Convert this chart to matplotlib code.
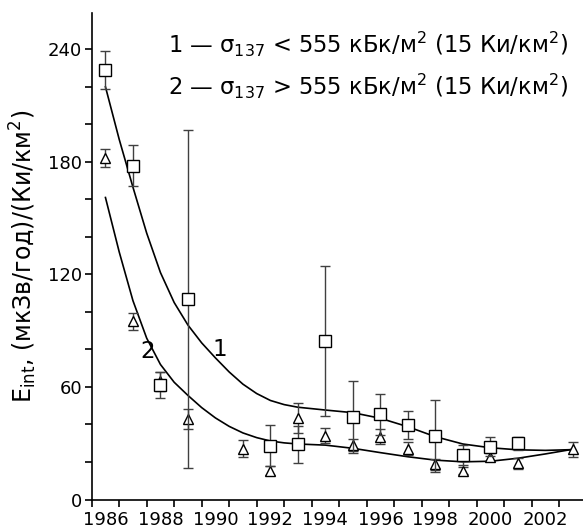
import matplotlib
matplotlib.use('Agg')
import numpy as np
import matplotlib.pyplot as plt

# группа 1 -- квадраты (sigma137 < 555 кБк/м2)
years1 = [1986, 1987, 1988, 1989, 1992, 1993, 1994, 1995, 1996, 1997, 1998, 1999, 2000, 2001]
dose1 = [229, 178, 61, 107, 28.7, 29.4, 84.7, 44, 45.4, 39.7, 33.8, 23.7, 28.2, 30]
err1 = [10, 11, 7, 90, 11, 10, 40, 19, 11, 7.5, 19, 5.5, 5, 3.5]

# группа 2 -- треугольники (sigma137 > 555 кБк/м2)
years2 = [1986, 1987, 1988, 1989, 1991, 1992, 1993, 1994, 1995, 1996, 1997, 1998, 1999, 2000, 2001, 2003]
dose2 = [182, 95, 63, 43, 27, 15.4, 43.3, 34, 29, 33.5, 27, 18.8, 15.4, 22.8, 19.3, 26.8]
err2 = [5, 4.6, 5, 5.5, 4.5, 2.5, 8, 4, 3, 4, 3.5, 3, 2, 2, 3, 4]

# аппроксимирующие кривые
fit1_years = [1986, 1986.5, 1987, 1987.5, 1988, 1988.5, 1989, 1989.5, 1990, 1990.5,
              1991, 1991.5, 1992, 1992.5, 1993, 1994, 1995, 1996, 1997, 1998,
              1999, 2000, 2001, 2002, 2003]
fit1_vals = [220, 192, 166.5, 142, 121, 105, 93, 83.5, 75.5, 68,
             61.5, 56.5, 52.8, 50.6, 49.2, 47.7, 46.3, 43.3, 38.8, 33.5,
             29.6, 27.6, 26.5, 26.2, 26.6]
fit2_years = [1986, 1986.5, 1987, 1987.5, 1988, 1988.5, 1989, 1989.5, 1990, 1990.5,
              1991, 1991.5, 1992, 1992.5, 1993, 1994, 1995, 1996, 1997, 1998,
              1999, 2000, 2001, 2002, 2003]
fit2_vals = [161, 132, 106, 86, 72, 62.5, 55.5, 49, 43.5, 39,
             35.5, 33, 31.2, 30.2, 29.6, 29, 27.3, 25, 22.8, 21,
             20.1, 20.4, 22, 24.3, 26.8]

year_labels = [1986, 1988, 1990, 1992, 1994, 1996, 1998, 2000, 2002]
dose_ticks = [0, 60, 120, 180, 240]

fig = plt.figure(figsize=(5.83, 5.30), dpi=100)
ax = fig.add_axes([0.1573, 0.0575, 0.8427, 0.9185])

ax.errorbar(years2, dose2, yerr=err2, fmt='^', ms=7.5, mfc='white', mec='black', mew=1,
            ecolor='#404040', elinewidth=1, capsize=3.6, capthick=1, zorder=3)
ax.errorbar(years1, dose1, yerr=err1, fmt='s', ms=8.4, mfc='white', mec='black', mew=1,
            ecolor='#404040', elinewidth=1, capsize=3.6, capthick=1, zorder=4)
ax.plot(fit1_years, fit1_vals, 'k-', lw=1.2, zorder=2)
ax.plot(fit2_years, fit2_vals, 'k-', lw=1.2, zorder=2)

ax.text(1990.15, 80, '1', fontsize=16.5, ha='center', va='center')
ax.text(1987.55, 79, '2', fontsize=16.5, ha='center', va='center')

ax.set_xlim(1985.5, 2003.37)
ax.set_ylim(0, 259.5)
for s in ['top', 'right']:
    ax.spines[s].set_visible(False)
ax.spines['left'].set_linewidth(1.2)
ax.spines['bottom'].set_linewidth(1.2)

ax.set_xticks(year_labels)
ax.set_xticks(np.arange(1985.5, 2003, 1), minor=True)
ax.tick_params(axis='x', which='major', length=0, pad=8.5, labelsize=13)
ax.tick_params(axis='x', which='minor', length=5, width=1.2)
ax.set_yticks(dose_ticks)
ax.set_yticks(np.arange(20, 260, 20), minor=True)
ax.tick_params(axis='y', which='both', length=5, width=1.2, labelsize=13, pad=2)

ax.set_ylabel('E$_{\\rm int}$, (мкЗв/год)/(Ки/км$^2$)', fontsize=17, labelpad=6)

fig.text(168 / 583, 1 - 44 / 530, '1 — σ$_{137}$ < 555 кБк/м$^2$ (15 Ки/км$^2$)',
         fontsize=16.3, ha='left', va='center')
fig.text(168 / 583, 1 - 86 / 530, '2 — σ$_{137}$ > 555 кБк/м$^2$ (15 Ки/км$^2$)',
         fontsize=16.3, ha='left', va='center')

fig.savefig('out.png', dpi=100)
